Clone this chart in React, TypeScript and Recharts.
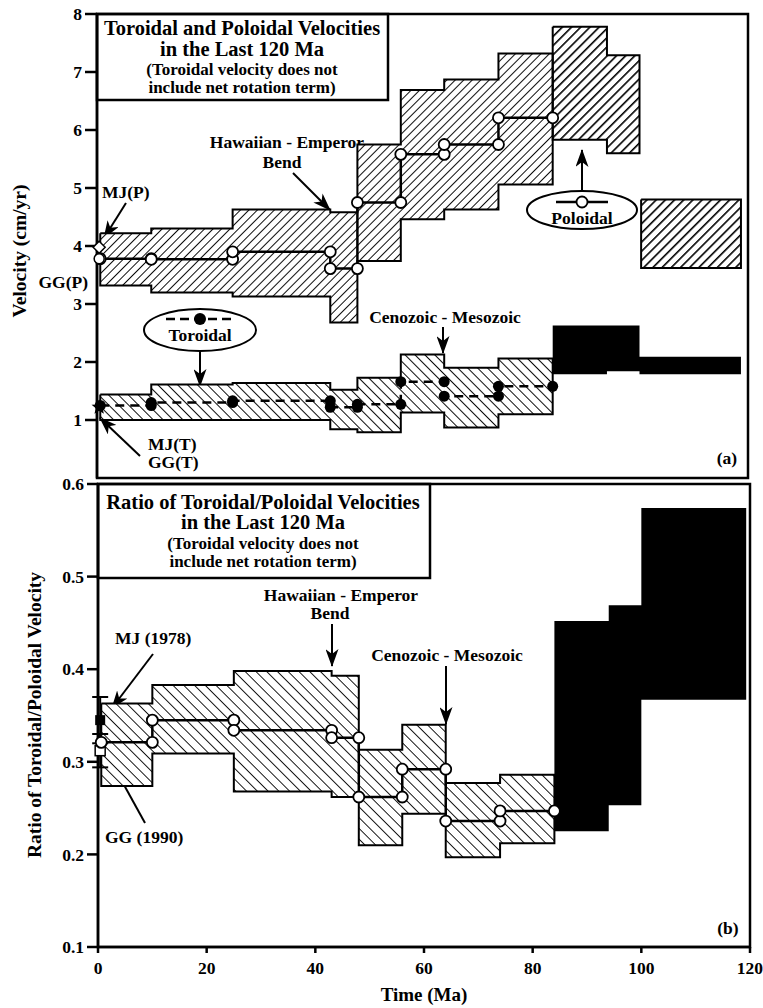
import React from "react";
import {
  Area,
  ComposedChart,
  ErrorBar,
  Line,
  ReferenceArea,
  Scatter,
  XAxis,
  YAxis,
} from "recharts";

// stage boundaries (Ma) used by both panels, 0 - 84 Ma
const stageEdges = [0.6, 10, 25, 43, 48, 56, 64, 74, 84];

// panel (a): velocities in cm/yr
const poloidalLow = [3.32, 3.2, 3.13, 2.68, 3.74, 4.46, 4.63, 5.06];
const poloidalHigh = [4.22, 4.3, 4.63, 4.58, 5.75, 6.69, 6.87, 7.32];
const poloidalVel = [3.78, 3.77, 3.9, 3.61, 4.75, 5.58, 5.75, 6.21];

const toroidalLow = [1.0, 1.0, 1.0, 0.84, 0.79, 1.13, 0.87, 1.1];
const toroidalHigh = [1.44, 1.61, 1.64, 1.52, 1.73, 2.13, 1.9, 2.06];
const toroidalVel = [1.25, 1.3, 1.33, 1.22, 1.27, 1.66, 1.41, 1.58];

// Cretaceous stages
const lateEdges = [84, 94, 100];
const poloidalLateLow = [5.83, 5.6];
const poloidalLateHigh = [7.78, 7.29];
const oldestEdges = [100.3, 118.7];
const poloidalOldestLow = [3.62];
const poloidalOldestHigh = [4.8];
const toroidalLateEdges = [84, 94, 100, 118.7];
const toroidalLateLow = [1.79, 1.84, 1.79];
const toroidalLateHigh = [2.63, 2.63, 2.09];

// present-day reference models
const presentAge = 0.4;
const mjPoloidal = 3.98;
const ggPoloidal = 3.78;
const presentToroidal = 1.22;

// panel (b): ratio toroidal / poloidal
const ratioLow = [0.274, 0.309, 0.268, 0.262, 0.21, 0.244, 0.197, 0.212];
const ratioHigh = [0.363, 0.383, 0.398, 0.393, 0.313, 0.34, 0.277, 0.286];
const ratioVal = [0.321, 0.345, 0.334, 0.326, 0.262, 0.292, 0.236, 0.247];
const ratioLateEdges = [84, 94, 100, 119.3];
const ratioLateLow = [0.225, 0.253, 0.367];
const ratioLateHigh = [0.452, 0.469, 0.574];
const mjRatio = { v: 0.345, err: 0.025 };
const ggRatio = { v: 0.312, err: 0.018 };

const ageDomain = [0, 120];
const ageTicks = [0, 20, 40, 60, 80, 100, 120];
const velDomain = [0, 8];
const velTicks = [1, 2, 3, 4, 5, 6, 7, 8];
const ratioDomain = [0.1, 0.6];
const ratioTicks = [0.1, 0.2, 0.3, 0.4, 0.5, 0.6];

const FONT = "'Liberation Serif', 'Times New Roman', serif";
const INK = "#000";

type Row = { age: number; v: number };

function bandRows(edges: number[], lo: number[], hi: number[]) {
  const rows = lo.map((l, i) => ({ age: edges[i], range: [l, hi[i]] }));
  rows.push({ age: edges[edges.length - 1], range: [lo[lo.length - 1], hi[hi.length - 1]] });
  return rows;
}

// closed outline of a stepped band: top edge forward, bottom edge back
function outlineRows(edges: number[], lo: number[], hi: number[]) {
  const pts: Row[] = [];
  hi.forEach((h, i) => {
    pts.push({ age: edges[i], v: h });
    pts.push({ age: edges[i + 1], v: h });
  });
  for (let i = lo.length - 1; i >= 0; i--) {
    pts.push({ age: edges[i + 1], v: lo[i] });
    pts.push({ age: edges[i], v: lo[i] });
  }
  pts.push({ age: edges[0], v: hi[0] });
  return pts;
}

function stepRows(edges: number[], vals: number[]) {
  const pts: Row[] = [];
  vals.forEach((v, i) => {
    pts.push({ age: edges[i], v });
    pts.push({ age: edges[i + 1], v });
  });
  return pts;
}

const txt = { fontFamily: FONT, fontWeight: 700, fill: INK } as const;
const tickStyle = { fill: INK, fontSize: 17.5, fontWeight: 700, fontFamily: FONT };
const axisStroke = { stroke: INK, strokeWidth: 2.5 };
const NOTE = 17.5;
const TITLE = 20.5;
const SUB = 17;

function Arrow({ x1, y1, x2, y2, id }: { x1: number; y1: number; x2: number; y2: number; id: string }) {
  return <line x1={x1} y1={y1} x2={x2} y2={y2} stroke={INK} strokeWidth={2} markerEnd={`url(#${id})`} />;
}

function ArrowMarker({ id }: { id: string }) {
  return (
    <marker id={id} viewBox="0 0 18 13" refX="17" refY="6.5" markerWidth="18" markerHeight="13" markerUnits="userSpaceOnUse" orient="auto">
      <path d="M0,0 L18,6.5 L0,13 L5,6.5 Z" fill={INK} />
    </marker>
  );
}

function Hatch({ id, size, width, angle }: { id: string; size: number; width: number; angle: number }) {
  return (
    <pattern id={id} width={size} height={size} patternUnits="userSpaceOnUse" patternTransform={`rotate(${angle})`}>
      <rect width={size} height={size} fill="#fff" />
      <line x1={0} y1={0} x2={0} y2={size} stroke={INK} strokeWidth={width} />
    </pattern>
  );
}

function TopNotes() {
  return (
    <g>
      <rect x={97} y={14} width={291} height={86} fill="#fff" stroke={INK} strokeWidth={2.5} />
      <text x={242} y={35} textAnchor="middle" fontSize={TITLE} {...txt}>Toroidal and Poloidal Velocities</text>
      <text x={242} y={56} textAnchor="middle" fontSize={TITLE} {...txt}>in the Last 120 Ma</text>
      <text x={242} y={75} textAnchor="middle" fontSize={SUB} {...txt}>(Toroidal velocity does not</text>
      <text x={242} y={93} textAnchor="middle" fontSize={SUB} {...txt}>include net rotation term)</text>

      <text x={20} y={251} textAnchor="middle" fontSize={19.5} transform="rotate(-90 20 251)" dy={6} {...txt}>Velocity (cm/yr)</text>

      <text x={102} y={198} fontSize={NOTE} {...txt}>MJ(P)</text>
      <Arrow x1={126} y1={203} x2={104} y2={238} id="arrA" />
      <text x={88} y={288} textAnchor="end" fontSize={NOTE} {...txt}>GG(P)</text>

      <text x={287} y={148} textAnchor="middle" fontSize={NOTE} {...txt}>Hawaiian - Emperor</text>
      <text x={282} y={168} textAnchor="middle" fontSize={NOTE} {...txt}>Bend</text>
      <Arrow x1={293} y1={173} x2={330} y2={210} id="arrA" />

      <Arrow x1={582} y1={191} x2={582} y2={150} id="arrA" />
      <ellipse cx={582} cy={210} rx={55} ry={19} fill="#fff" stroke={INK} strokeWidth={2} />
      <line x1={556} y1={202} x2={608} y2={202} stroke={INK} strokeWidth={2.5} />
      <circle cx={582} cy={202} r={5.5} fill="#fff" stroke={INK} strokeWidth={1.8} />
      <text x={582} y={224} textAnchor="middle" fontSize={NOTE} {...txt}>Poloidal</text>

      <ellipse cx={200} cy={330} rx={56} ry={21} fill="#fff" stroke={INK} strokeWidth={2} />
      <line x1={166} y1={319} x2={232} y2={319} stroke={INK} strokeWidth={2.5} strokeDasharray="9 5" />
      <circle cx={200} cy={319} r={6} fill={INK} />
      <text x={200} y={341} textAnchor="middle" fontSize={NOTE} {...txt}>Toroidal</text>
      <Arrow x1={200} y1={351} x2={200} y2={386} id="arrA" />

      <text x={445} y={323} textAnchor="middle" fontSize={NOTE} {...txt}>Cenozoic - Mesozoic</text>
      <Arrow x1={443} y1={327} x2={443} y2={353} id="arrA" />

      <text x={148} y={450} fontSize={NOTE} {...txt}>MJ(T)</text>
      <text x={148} y={468} fontSize={NOTE} {...txt}>GG(T)</text>
      <Arrow x1={140} y1={456} x2={100} y2={418} id="arrA" />

      <text x={727} y={464} textAnchor="middle" fontSize={NOTE} {...txt}>(a)</text>
    </g>
  );
}

function BottomNotes() {
  return (
    <g transform="translate(0,-470)">
      <rect x={98} y={484} width={332} height={94} fill="#fff" stroke={INK} strokeWidth={2.5} />
      <text x={263} y={509} textAnchor="middle" fontSize={TITLE} {...txt}>Ratio of Toroidal/Poloidal Velocities</text>
      <text x={263} y={529} textAnchor="middle" fontSize={TITLE} {...txt}>in the Last 120 Ma</text>
      <text x={263} y={549} textAnchor="middle" fontSize={SUB} {...txt}>(Toroidal velocity does not</text>
      <text x={263} y={567} textAnchor="middle" fontSize={SUB} {...txt}>include net rotation term)</text>

      <text x={35} y={715} textAnchor="middle" fontSize={19.5} transform="rotate(-90 35 715)" dy={6} {...txt}>Ratio of Toroidal/Poloidal Velocity</text>
      <text x={424} y={1001} textAnchor="middle" fontSize={19} {...txt}>Time (Ma)</text>

      <text x={115} y={644} fontSize={NOTE} {...txt}>MJ (1978)</text>
      <Arrow x1={153} y1={654} x2={112} y2={708} id="arrB" />
      <text x={105} y={843} fontSize={NOTE} {...txt}>GG (1990)</text>
      <Arrow x1={145} y1={823} x2={113} y2={765} id="arrB" />

      <text x={341} y={601} textAnchor="middle" fontSize={NOTE} {...txt}>Hawaiian - Emperor</text>
      <text x={330} y={619} textAnchor="middle" fontSize={NOTE} {...txt}>Bend</text>
      <Arrow x1={332} y1={624} x2={332} y2={666} id="arrB" />

      <text x={447} y={661} textAnchor="middle" fontSize={NOTE} {...txt}>Cenozoic - Mesozoic</text>
      <Arrow x1={446} y1={666} x2={446} y2={724} id="arrB" />

      <text x={728} y={934} textAnchor="middle" fontSize={NOTE} {...txt}>(b)</text>
    </g>
  );
}

const openCircle = { r: 5.5, fill: "#fff", stroke: INK, strokeWidth: 1.8 };
const filledCircle = { r: 5.5, fill: INK, stroke: "none" };

function VelocityPanel() {
  return (
    <ComposedChart width={763} height={490} margin={{ top: 14, right: 15, bottom: 12, left: 0 }}>
      <defs>
        <Hatch id="hPol" size={6} width={1.9} angle={45} />
        <Hatch id="hPolLate" size={6.5} width={3.2} angle={45} />
        <Hatch id="hTor" size={7} width={1.9} angle={-45} />
        <ArrowMarker id="arrA" />
      </defs>
      <XAxis dataKey="age" type="number" domain={ageDomain} ticks={ageTicks} tick={false} tickLine={false} height={0} axisLine={axisStroke} />
      <YAxis type="number" domain={velDomain} ticks={velTicks} width={97} tickSize={12} tickMargin={3} tickLine={axisStroke} axisLine={axisStroke} tick={tickStyle} />

      <Area data={bandRows(stageEdges, poloidalLow, poloidalHigh)} dataKey="range" type="stepAfter" stroke="none" fill="url(#hPol)" fillOpacity={1} isAnimationActive={false} />
      <Area data={bandRows(lateEdges, poloidalLateLow, poloidalLateHigh)} dataKey="range" type="stepAfter" stroke="none" fill="url(#hPolLate)" fillOpacity={1} isAnimationActive={false} />
      <Area data={bandRows(oldestEdges, poloidalOldestLow, poloidalOldestHigh)} dataKey="range" type="stepAfter" stroke="none" fill="url(#hPolLate)" fillOpacity={1} isAnimationActive={false} />
      <Area data={bandRows(stageEdges, toroidalLow, toroidalHigh)} dataKey="range" type="stepAfter" stroke="none" fill="url(#hTor)" fillOpacity={1} isAnimationActive={false} />
      <Area data={bandRows(toroidalLateEdges, toroidalLateLow, toroidalLateHigh)} dataKey="range" type="stepAfter" stroke="none" fill={INK} fillOpacity={1} isAnimationActive={false} />

      <Line data={outlineRows(stageEdges, poloidalLow, poloidalHigh)} dataKey="v" type="linear" stroke={INK} strokeWidth={2} dot={false} isAnimationActive={false} />
      <Line data={outlineRows(lateEdges, poloidalLateLow, poloidalLateHigh)} dataKey="v" type="linear" stroke={INK} strokeWidth={2} dot={false} isAnimationActive={false} />
      <Line data={outlineRows(oldestEdges, poloidalOldestLow, poloidalOldestHigh)} dataKey="v" type="linear" stroke={INK} strokeWidth={2} dot={false} isAnimationActive={false} />
      <Line data={outlineRows(stageEdges, toroidalLow, toroidalHigh)} dataKey="v" type="linear" stroke={INK} strokeWidth={2} dot={false} isAnimationActive={false} />

      <Line data={stepRows(stageEdges, toroidalVel)} dataKey="v" type="linear" stroke={INK} strokeWidth={2.5} strokeDasharray="9 6" dot={filledCircle} isAnimationActive={false} />
      <Line data={stepRows(stageEdges, poloidalVel)} dataKey="v" type="linear" stroke={INK} strokeWidth={2.5} dot={openCircle} isAnimationActive={false} />

      <Scatter
        data={[{ age: presentAge, v: mjPoloidal }]}
        dataKey="v"
        isAnimationActive={false}
        shape={(p: any) => (
          <polygon points={`${p.cx},${p.cy - 6} ${p.cx + 6},${p.cy} ${p.cx},${p.cy + 6} ${p.cx - 6},${p.cy}`} fill="#fff" stroke={INK} strokeWidth={1.5} />
        )}
      />
      <Scatter
        data={[{ age: presentAge, v: ggPoloidal }]}
        dataKey="v"
        isAnimationActive={false}
        shape={(p: any) => <circle cx={p.cx} cy={p.cy} r={5} fill="#fff" stroke={INK} strokeWidth={1.5} />}
      />
      <Scatter
        data={[{ age: presentAge, v: presentToroidal }]}
        dataKey="v"
        isAnimationActive={false}
        shape={(p: any) => {
          const pts: string[] = [];
          for (let k = 0; k < 10; k++) {
            const r = k % 2 === 0 ? 8 : 3.5;
            const a = -Math.PI / 2 + (k * Math.PI) / 5;
            pts.push(`${p.cx + r * Math.cos(a)},${p.cy + r * Math.sin(a)}`);
          }
          return <polygon points={pts.join(" ")} fill={INK} />;
        }}
      />

      <ReferenceArea x1={ageDomain[0]} x2={ageDomain[1]} y1={velDomain[0]} y2={velDomain[1]} fill="none" stroke={INK} strokeWidth={2.5} ifOverflow="visible" />
      <TopNotes />
    </ComposedChart>
  );
}

function RatioPanel() {
  return (
    <ComposedChart width={763} height={538} margin={{ top: 14, right: 13, bottom: 0, left: 0 }}>
      <defs>
        <Hatch id="hRatio" size={7.6} width={1.8} angle={-45} />
        <ArrowMarker id="arrB" />
      </defs>
      <XAxis dataKey="age" type="number" domain={ageDomain} ticks={ageTicks} height={61} tickSize={6} tickMargin={9} tickLine={axisStroke} axisLine={axisStroke} tick={tickStyle} />
      <YAxis type="number" domain={ratioDomain} ticks={ratioTicks} width={98} tickSize={11} tickMargin={3} tickLine={axisStroke} axisLine={axisStroke} tick={tickStyle} tickFormatter={(v: number) => v.toFixed(1)} />

      <Area data={bandRows(stageEdges, ratioLow, ratioHigh)} dataKey="range" type="stepAfter" stroke="none" fill="url(#hRatio)" fillOpacity={1} isAnimationActive={false} />
      <Area data={bandRows(ratioLateEdges, ratioLateLow, ratioLateHigh)} dataKey="range" type="stepAfter" stroke="none" fill={INK} fillOpacity={1} isAnimationActive={false} />
      <Line data={outlineRows(stageEdges, ratioLow, ratioHigh)} dataKey="v" type="linear" stroke={INK} strokeWidth={2} dot={false} isAnimationActive={false} />
      <Line data={stepRows(stageEdges, ratioVal)} dataKey="v" type="linear" stroke={INK} strokeWidth={2.5} dot={openCircle} isAnimationActive={false} />

      <Scatter
        data={[{ age: presentAge, v: mjRatio.v, err: mjRatio.err }]}
        dataKey="v"
        isAnimationActive={false}
        shape={(p: any) => <rect x={p.cx - 5} y={p.cy - 5} width={10} height={10} fill={INK} />}
      >
        <ErrorBar dataKey="err" direction="y" width={8} stroke={INK} strokeWidth={2} />
      </Scatter>
      <Scatter
        data={[{ age: presentAge, v: ggRatio.v, err: ggRatio.err }]}
        dataKey="v"
        isAnimationActive={false}
        shape={(p: any) => <rect x={p.cx - 5} y={p.cy - 5} width={10} height={10} fill="#fff" stroke={INK} strokeWidth={1.5} />}
      >
        <ErrorBar dataKey="err" direction="y" width={8} stroke={INK} strokeWidth={2} />
      </Scatter>

      <ReferenceArea x1={ageDomain[0]} x2={ageDomain[1]} y1={ratioDomain[0]} y2={ratioDomain[1]} fill="none" stroke={INK} strokeWidth={2.5} ifOverflow="visible" />
      <BottomNotes />
    </ComposedChart>
  );
}

export default function App() {
  return (
    <div style={{ position: "absolute", left: 0, top: 0, width: 763, height: 1008, background: "#fff", fontFamily: FONT }}>
      <div style={{ position: "absolute", left: 0, top: 0 }}>
        <VelocityPanel />
      </div>
      <div style={{ position: "absolute", left: 0, top: 470 }}>
        <RatioPanel />
      </div>
    </div>
  );
}
